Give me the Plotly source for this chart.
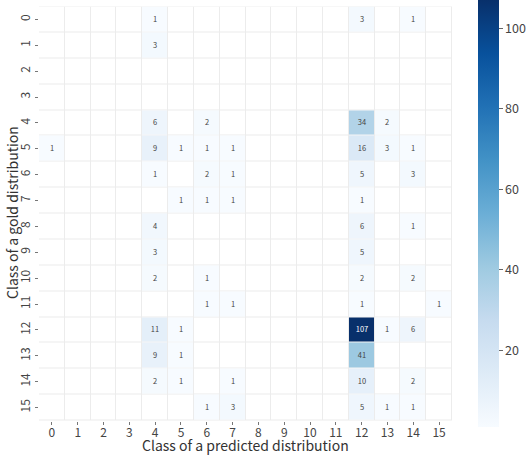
import plotly.graph_objects as go
import plotly.express as px

classes = list(range(16))
tick_labels = [str(c) for c in classes]
colorbar_ticks = [20, 40, 60, 80, 100]

# rows: gold class, columns: predicted class
row_0 = [0, 0, 0, 0, 1, 0, 0, 0, 0, 0, 0, 0, 3, 0, 1, 0]
row_1 = [0, 0, 0, 0, 3, 0, 0, 0, 0, 0, 0, 0, 0, 0, 0, 0]
row_2 = [0, 0, 0, 0, 0, 0, 0, 0, 0, 0, 0, 0, 0, 0, 0, 0]
row_3 = [0, 0, 0, 0, 0, 0, 0, 0, 0, 0, 0, 0, 0, 0, 0, 0]
row_4 = [0, 0, 0, 0, 6, 0, 2, 0, 0, 0, 0, 0, 34, 2, 0, 0]
row_5 = [1, 0, 0, 0, 9, 1, 1, 1, 0, 0, 0, 0, 16, 3, 1, 0]
row_6 = [0, 0, 0, 0, 1, 0, 2, 1, 0, 0, 0, 0, 5, 0, 3, 0]
row_7 = [0, 0, 0, 0, 0, 1, 1, 1, 0, 0, 0, 0, 1, 0, 0, 0]
row_8 = [0, 0, 0, 0, 4, 0, 0, 0, 0, 0, 0, 0, 6, 0, 1, 0]
row_9 = [0, 0, 0, 0, 3, 0, 0, 0, 0, 0, 0, 0, 5, 0, 0, 0]
row_10 = [0, 0, 0, 0, 2, 0, 1, 0, 0, 0, 0, 0, 2, 0, 2, 0]
row_11 = [0, 0, 0, 0, 0, 0, 1, 1, 0, 0, 0, 0, 1, 0, 0, 1]
row_12 = [0, 0, 0, 0, 11, 1, 0, 0, 0, 0, 0, 0, 107, 1, 6, 0]
row_13 = [0, 0, 0, 0, 9, 1, 0, 0, 0, 0, 0, 0, 41, 0, 0, 0]
row_14 = [0, 0, 0, 0, 2, 1, 0, 1, 0, 0, 0, 0, 10, 0, 2, 0]
row_15 = [0, 0, 0, 0, 0, 0, 1, 3, 0, 0, 0, 0, 5, 1, 1, 0]

rows = [row_0, row_1, row_2, row_3, row_4, row_5, row_6, row_7,
        row_8, row_9, row_10, row_11, row_12, row_13, row_14, row_15]

z = [[v if v > 0 else None for v in r] for r in rows]
text = [[str(v) if v > 0 else "" for v in r] for r in rows]

FONT = "Noto Sans CJK JP"
W, H = 528, 459
# plot area in pixels
PX0, PX1, PY0, PY1 = 39, 452, 6.5, 420.5

fig = go.Figure()
# white background cells (zeros shown as white)
fig.add_trace(go.Heatmap(
    x=classes, y=classes, z=[[0] * 16 for _ in classes],
    colorscale=[[0, "white"], [1, "white"]], showscale=False,
    xgap=1, ygap=1, hoverinfo="skip",
))
zmax = max(max(r) for r in rows)
fig.add_trace(go.Heatmap(
    x=classes, y=classes, z=z, text=text, texttemplate="%{text}",
    textfont=dict(size=7.5, family=FONT),
    colorscale=px.colors.sequential.Blues, zmin=1, zmax=zmax,
    xgap=1, ygap=1,
    colorbar=dict(
        thickness=21, lenmode="pixels", len=427,
        y=1 - 213.5 / H, yanchor="middle", yref="paper",
        x=478 / W, xanchor="left", xref="paper",
        xpad=0, ypad=0, outlinewidth=0,
        tickvals=colorbar_ticks, ticks="outside", ticklen=4,
        tickcolor="#666", tickfont=dict(size=12.5, color="#444", family=FONT),
    ),
))

fig.update_layout(
    width=W, height=H,
    margin=dict(l=0, r=0, t=0, b=0, autoexpand=False),
    plot_bgcolor="#ececec", paper_bgcolor="white",
    font=dict(family=FONT, color="#333"),
    xaxis=dict(
        domain=[PX0 / W, PX1 / W], automargin=False,
        tickvals=classes, ticktext=tick_labels, ticks="outside", ticklen=3,
        tickcolor="#777", tickfont=dict(size=12, color="#444"),
        ticklabelstandoff=-2,
        showgrid=False, zeroline=False, range=[-0.5, 15.5],
    ),
    yaxis=dict(
        domain=[1 - PY1 / H, 1 - PY0 / H], automargin=False,
        tickvals=classes, ticktext=tick_labels, ticks="outside", ticklen=3,
        tickcolor="#777", tickfont=dict(size=12, color="#444"), tickangle=-90,
        ticklabelstandoff=0,
        showgrid=False, zeroline=False, range=[15.5, -0.5],
    ),
    annotations=[
        dict(text="Class of a predicted distribution", xref="paper", yref="paper",
             x=(PX0 + PX1) / 2 / W, y=1 - 445 / H, xanchor="center", yanchor="middle",
             showarrow=False, font=dict(size=14, color="#333", family=FONT)),
        dict(text="Class of a gold distribution", xref="paper", yref="paper",
             x=12 / W, y=1 - 213 / H, xanchor="center", yanchor="middle", textangle=-90,
             showarrow=False, font=dict(size=14, color="#333", family=FONT)),
    ],
)

fig.write_html("out.html", config={"displayModeBar": False},
               post_script="document.body.style.margin='0';")
